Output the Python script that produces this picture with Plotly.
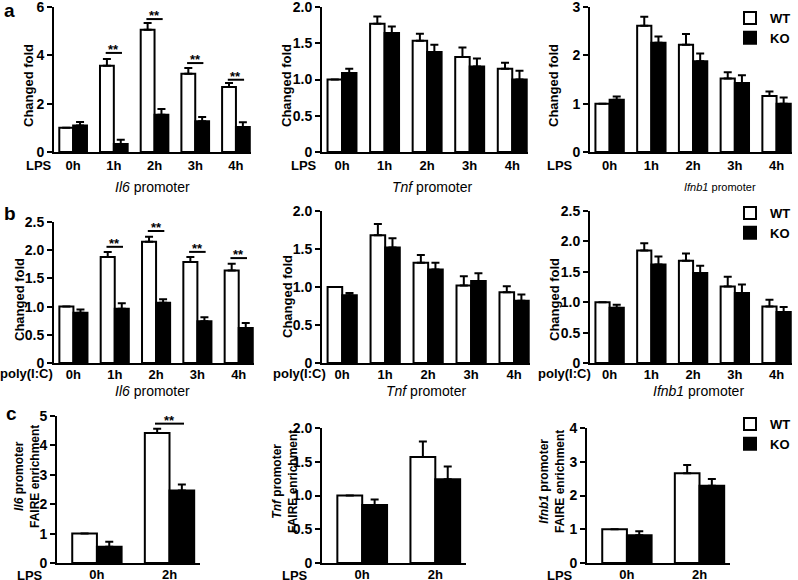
import plotly.graph_objects as go

W, H = 798, 580


def fx(px):
    return px / W


def fy(py):
    return 1 - py / H


# ---------------- data ----------------
hours = ['0h', '1h', '2h', '3h', '4h']
hours_c = ['0h', '2h']

# a: LPS, ChIP
il6_lps_wt = [1.0, 3.57, 5.06, 3.24, 2.69]
il6_lps_wt_err = [0, 0.28, 0.28, 0.24, 0.17]
il6_lps_ko = [1.10, 0.33, 1.54, 1.27, 1.03]
il6_lps_ko_err = [0.14, 0.18, 0.24, 0.18, 0.20]

tnf_lps_wt = [1.0, 1.77, 1.535, 1.31, 1.15]
tnf_lps_wt_err = [0, 0.10, 0.095, 0.13, 0.08]
tnf_lps_ko = [1.09, 1.64, 1.38, 1.18, 1.0]
tnf_lps_ko_err = [0.06, 0.09, 0.10, 0.11, 0.12]

ifnb1_lps_wt = [1.0, 2.61, 2.22, 1.52, 1.16]
ifnb1_lps_wt_err = [0, 0.19, 0.22, 0.13, 0.09]
ifnb1_lps_ko = [1.08, 2.26, 1.88, 1.43, 1.0]
ifnb1_lps_ko_err = [0.07, 0.13, 0.16, 0.16, 0.13]

# b: poly(I:C)
il6_pic_wt = [1.0, 1.88, 2.15, 1.79, 1.64]
il6_pic_wt_err = [0, 0.09, 0.09, 0.09, 0.12]
il6_pic_ko = [0.89, 0.96, 1.07, 0.74, 0.62]
il6_pic_ko_err = [0.06, 0.10, 0.06, 0.07, 0.09]

tnf_pic_wt = [1.0, 1.68, 1.32, 1.02, 0.93]
tnf_pic_wt_err = [0, 0.15, 0.10, 0.12, 0.08]
tnf_pic_ko = [0.89, 1.52, 1.23, 1.08, 0.82]
tnf_pic_ko_err = [0.03, 0.12, 0.09, 0.10, 0.08]

ifnb1_pic_wt = [1.0, 1.85, 1.68, 1.26, 0.93]
ifnb1_pic_wt_err = [0, 0.12, 0.12, 0.16, 0.11]
ifnb1_pic_ko = [0.91, 1.62, 1.48, 1.15, 0.84]
ifnb1_pic_ko_err = [0.05, 0.13, 0.12, 0.14, 0.08]

# c: FAIRE, LPS
il6_faire_wt = [1.0, 4.42]
il6_faire_wt_err = [0, 0.15]
il6_faire_ko = [0.55, 2.47]
il6_faire_ko_err = [0.17, 0.20]

tnf_faire_wt = [1.0, 1.57]
tnf_faire_wt_err = [0, 0.23]
tnf_faire_ko = [0.86, 1.24]
tnf_faire_ko_err = [0.08, 0.19]

ifnb1_faire_wt = [1.0, 2.66]
ifnb1_faire_wt_err = [0, 0.24]
ifnb1_faire_ko = [0.82, 2.29]
ifnb1_faire_ko_err = [0.12, 0.20]

# significance markers (category, height of the line)
il6_lps_sig_cats = ['1h', '2h', '3h', '4h']
il6_lps_sig_y = [4.1, 5.5, 3.68, 2.99]
il6_pic_sig_cats = ['1h', '2h', '3h', '4h']
il6_pic_sig_y = [2.06, 2.34, 1.97, 1.86]
il6_faire_sig_cats = ['2h']
il6_faire_sig_y = [4.74]

# y tick values / labels
yt_6 = [0, 2, 4, 6]
yt_6_text = ['0', '2', '4', '6']
yt_2 = [0, 0.5, 1.0, 1.5, 2.0]
yt_2_text = ['0', '0.5', '1.0', '1.5', '2.0']
yt_3 = [0, 1, 2, 3]
yt_3_text = ['0', '1', '2', '3']
yt_25 = [0, 0.5, 1.0, 1.5, 2.0, 2.5]
yt_25_text = ['0', '0.5', '1.0', '1.5', '2.0', '2.5']
yt_5 = [0, 1, 2, 3, 4, 5]
yt_5_text = ['0', '1', '2', '3', '4', '5']
yt_4 = [0, 1, 2, 3, 4]
yt_4_text = ['0', '1', '2', '3', '4']

# ---------------- panel layout ----------------
RNG5 = [-0.47, 4.37]
RNG2 = [-0.55, 1.42]
panels = [
    (hours, il6_lps_wt, il6_lps_wt_err, il6_lps_ko, il6_lps_ko_err, yt_6, yt_6_text, (54, 251), (7, 152), RNG5, 0),
    (hours, tnf_lps_wt, tnf_lps_wt_err, tnf_lps_ko, tnf_lps_ko_err, yt_2, yt_2_text, (322, 528), (7, 152), RNG5, 0),
    (hours, ifnb1_lps_wt, ifnb1_lps_wt_err, ifnb1_lps_ko, ifnb1_lps_ko_err, yt_3, yt_3_text, (590, 792), (7, 152), RNG5, 0),
    (hours, il6_pic_wt, il6_pic_wt_err, il6_pic_ko, il6_pic_ko_err, yt_25, yt_25_text, (54, 254), (222, 363), RNG5, -2),
    (hours, tnf_pic_wt, tnf_pic_wt_err, tnf_pic_ko, tnf_pic_ko_err, yt_2, yt_2_text, (322, 530), (211, 363), RNG5, -2),
    (hours, ifnb1_pic_wt, ifnb1_pic_wt_err, ifnb1_pic_ko, ifnb1_pic_ko_err, yt_25, yt_25_text, (590, 792), (211, 363), RNG5, -2),
    (hours_c, il6_faire_wt, il6_faire_wt_err, il6_faire_ko, il6_faire_ko_err, yt_5, yt_5_text, (57, 200), (416, 563), RNG2, -2),
    (hours_c, tnf_faire_wt, tnf_faire_wt_err, tnf_faire_ko, tnf_faire_ko_err, yt_2, yt_2_text, (322, 466), (428, 563), RNG2, -2),
    (hours_c, ifnb1_faire_wt, ifnb1_faire_wt_err, ifnb1_faire_ko, ifnb1_faire_ko_err, yt_4, yt_4_text, (587, 730), (428, 563), RNG2, -2),
]
legend_for_panel = {2: 'legend', 5: 'legend2', 8: 'legend3'}

FONT = 'Liberation Sans, Arial, sans-serif'

fig = go.Figure()
layout = dict(
    width=W, height=H, autosize=False,
    margin=dict(l=0, r=0, t=0, b=0, pad=0, autoexpand=False),
    paper_bgcolor='white', plot_bgcolor='white',
    barmode='group', bargap=0.32, bargroupgap=0,
    font=dict(family=FONT, color='black', size=13, weight='bold'),
    showlegend=True,
)

shapes = []
annotations = []

for i, (cats, wt, wte, ko, koe, yt, ytt, xd, yd, xr, stand) in enumerate(panels):
    n = i + 1
    xa = 'x' if n == 1 else f'x{n}'
    ya = 'y' if n == 1 else f'y{n}'
    leg = legend_for_panel.get(i)
    fig.add_trace(go.Bar(
        x=cats, y=wt, name='WT', xaxis=xa, yaxis=ya,
        marker=dict(color='white', line=dict(color='black', width=2)),
        error_y=dict(type='data', symmetric=False, array=wte, arrayminus=[0] * len(wte),
                     color='black', thickness=2, width=4),
        showlegend=leg is not None, legend=leg or 'legend',
    ))
    fig.add_trace(go.Bar(
        x=cats, y=ko, name='KO', xaxis=xa, yaxis=ya,
        marker=dict(color='black', line=dict(color='black', width=2)),
        error_y=dict(type='data', symmetric=False, array=koe, arrayminus=[0] * len(koe),
                     color='black', thickness=2, width=4),
        showlegend=leg is not None, legend=leg or 'legend',
    ))
    xkey = 'xaxis' if n == 1 else f'xaxis{n}'
    ykey = 'yaxis' if n == 1 else f'yaxis{n}'
    layout[xkey] = dict(
        domain=[fx(xd[0]), fx(xd[1])], anchor=ya, type='category',
        categoryorder='array', categoryarray=cats, range=xr,
        showline=True, linecolor='black', linewidth=2, ticks='',
        showgrid=False, zeroline=False, fixedrange=True, automargin=False,
        tickfont=dict(family=FONT, size=13, color='black', weight='bold'),
        ticklabelstandoff=stand, ticklabeloverflow='allow',
    )
    layout[ykey] = dict(
        domain=[fy(yd[1]), fy(yd[0])], anchor=xa, range=[0, yt[-1]],
        tickvals=yt, ticktext=ytt, showline=True, linecolor='black', linewidth=2,
        ticks='outside', ticklen=5, tickwidth=2, tickcolor='black',
        showgrid=False, zeroline=False, fixedrange=True, automargin=False,
        tickfont=dict(family=FONT, size=14, color='black', weight='bold'),
        ticklabeloverflow='allow',
    )

# significance bars
for n, cats, sc, sy in [(1, hours, il6_lps_sig_cats, il6_lps_sig_y),
                        (4, hours, il6_pic_sig_cats, il6_pic_sig_y),
                        (7, hours_c, il6_faire_sig_cats, il6_faire_sig_y)]:
    xa = 'x' if n == 1 else f'x{n}'
    ya = 'y' if n == 1 else f'y{n}'
    for c, yv in zip(sc, sy):
        idx = cats.index(c)
        shapes.append(dict(type='line', xref=xa, yref=ya, x0=idx - 0.2, x1=idx + 0.2,
                           y0=yv, y1=yv, line=dict(color='black', width=2)))
        annotations.append(dict(xref=xa, yref=ya, x=idx, y=yv, text='**', showarrow=False,
                                yanchor='bottom', yshift=-6,
                                font=dict(family=FONT, size=13, color='black', weight='bold')))


def ann(px, py, text, size=13, weight='bold', angle=0, xanchor='center'):
    annotations.append(dict(xref='paper', yref='paper', x=fx(px), y=fy(py), text=text,
                            showarrow=False, xanchor=xanchor, yanchor='middle', textangle=angle,
                            font=dict(family=FONT, size=size, color='black', weight=weight)))


# panel letters
ann(2, 10, 'a', size=19, xanchor='left')
ann(2, 214, 'b', size=19, xanchor='left')
ann(4, 413, 'c', size=19, xanchor='left')

# y titles
for px, py in [(29, 86), (287, 86), (554, 86), (19, 300), (287, 297), (554, 300)]:
    ann(px, py, 'Changed fold', size=13, angle=-90)
ann(27, 477, '<i>Il6</i> promoter<br>FAIRE enrichment', size=12, angle=-90)
ann(285, 482, '<i>Tnf</i> promoter<br>FAIRE enrichment', size=12, angle=-90)
ann(552, 482, '<i>Ifnb1</i> promoter<br>FAIRE enrichment', size=12, angle=-90)

# stimulus labels
for px in [39, 304, 560]:
    ann(px, 165, 'LPS', size=13)
for px in [26, 299, 564]:
    ann(px, 373, 'poly(I:C)', size=13)
for px in [30, 295, 560]:
    ann(px, 575, 'LPS', size=13)

# x titles
ann(152, 187, '<i>Il6</i> promoter', size=14, weight='normal')
ann(432, 187, '<i>Tnf</i> promoter', size=14, weight='normal')
ann(720, 187, '<i>Ifnb1</i> promoter', size=11, weight='normal')
ann(152, 391, '<i>Il6</i> promoter', size=14, weight='normal')
ann(426, 391, '<i>Tnf</i> promoter', size=14, weight='normal')
ann(698, 391, '<i>Ifnb1</i> promoter', size=14, weight='normal')

leg_common = dict(xanchor='left', yanchor='top', bgcolor='rgba(0,0,0,0)',
                  font=dict(family=FONT, size=13, color='black', weight='bold'),
                  tracegroupgap=0, itemclick=False, itemdoubleclick=False)
layout['legend'] = dict(x=fx(730), y=fy(3), **leg_common)
layout['legend2'] = dict(x=fx(730), y=fy(198), **leg_common)
layout['legend3'] = dict(x=fx(730), y=fy(409), **leg_common)

layout['shapes'] = shapes
layout['annotations'] = annotations
fig.update_layout(**layout)

fig.write_html(
    'out.html',
    config={'displayModeBar': False},
    post_script="document.body.style.margin='0';document.body.style.overflow='hidden';",
)
